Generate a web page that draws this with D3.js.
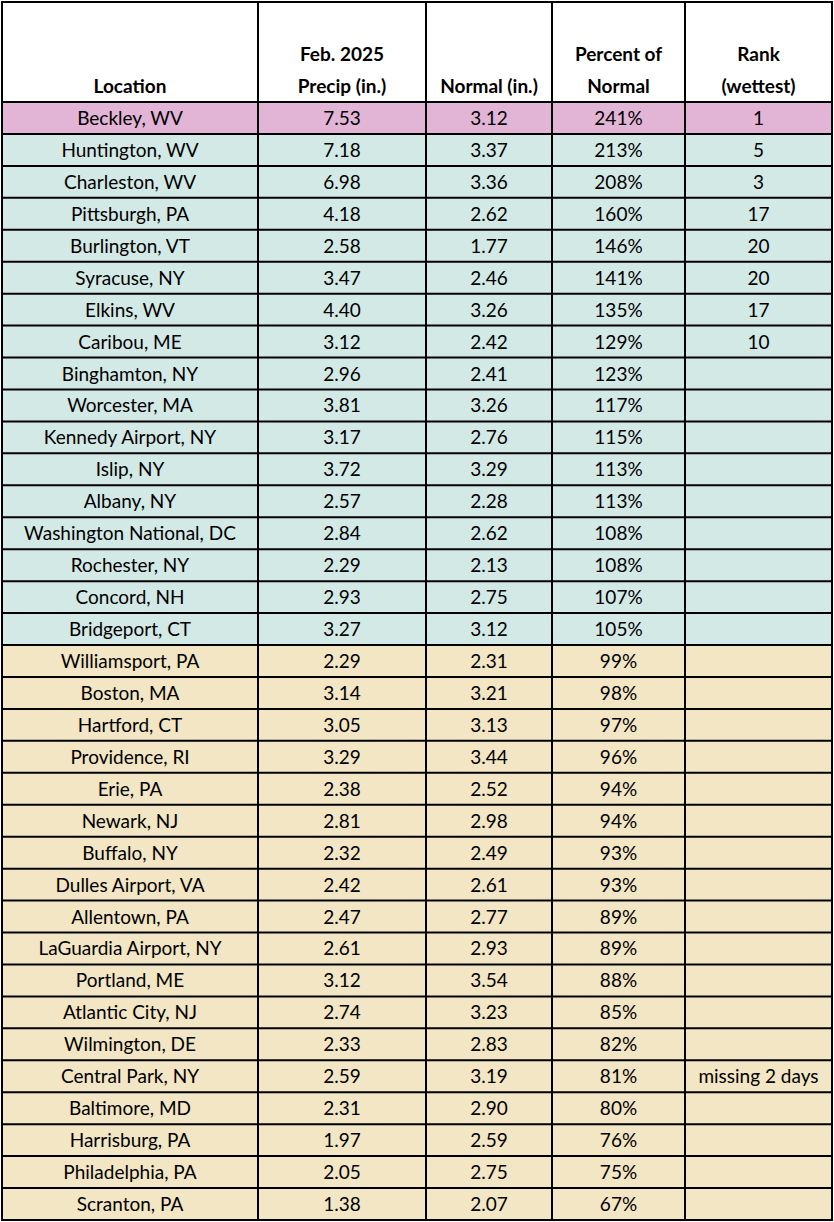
<!DOCTYPE html>
<html><head><meta charset="utf-8">
<script src="https://cdn.jsdelivr.net/npm/d3@7"></script>
<style>body{margin:0;background:#fff}</style>
</head><body><div id="root"></div>
<script>
const locations = ["Beckley, WV","Huntington, WV","Charleston, WV","Pittsburgh, PA","Burlington, VT","Syracuse, NY","Elkins, WV","Caribou, ME","Binghamton, NY","Worcester, MA","Kennedy Airport, NY","Islip, NY","Albany, NY","Washington National, DC","Rochester, NY","Concord, NH","Bridgeport, CT","Williamsport, PA","Boston, MA","Hartford, CT","Providence, RI","Erie, PA","Newark, NJ","Buffalo, NY","Dulles Airport, VA","Allentown, PA","LaGuardia Airport, NY","Portland, ME","Atlantic City, NJ","Wilmington, DE","Central Park, NY","Baltimore, MD","Harrisburg, PA","Philadelphia, PA","Scranton, PA"];
const precip = ["7.53","7.18","6.98","4.18","2.58","3.47","4.40","3.12","2.96","3.81","3.17","3.72","2.57","2.84","2.29","2.93","3.27","2.29","3.14","3.05","3.29","2.38","2.81","2.32","2.42","2.47","2.61","3.12","2.74","2.33","2.59","2.31","1.97","2.05","1.38"];
const normal = ["3.12","3.37","3.36","2.62","1.77","2.46","3.26","2.42","2.41","3.26","2.76","3.29","2.28","2.62","2.13","2.75","3.12","2.31","3.21","3.13","3.44","2.52","2.98","2.49","2.61","2.77","2.93","3.54","3.23","2.83","3.19","2.90","2.59","2.75","2.07"];
const percent = [241,213,208,160,146,141,135,129,123,117,115,113,113,108,108,107,105,99,98,97,96,94,94,93,93,89,89,88,85,82,81,80,76,75,67];
const rank = ["1","5","3","17","20","20","17","10","","","","","","","","","","","","","","","","","","","","","","","missing 2 days","","","",""];
const headers = [["Location"],["Feb. 2025","Precip (in.)"],["Normal (in.)"],["Percent of","Normal"],["Rank","(wettest)"]];

const width = 834, height = 1222;
const colEdges = [2, 258, 426, 552, 685, 832];
const headTop = 2, headBottom = 102, tableBottom = 1220;

const svg = d3.select("#root").append("svg")
  .attr("width", width).attr("height", height)
  .attr("viewBox", [0, 0, width, height])
  .style("font-family", "Lato, 'Open Sans', sans-serif");

const y = d3.scaleBand().domain(d3.range(locations.length)).range([headBottom, tableBottom]);
const fill = i => percent[i] >= 200 && i === 0 ? "#e2b4d6" : percent[i] >= 100 ? "#d3e9e6" : "#f2e6c4";

// row backgrounds
svg.selectAll("rect.row").data(locations).enter().append("rect")
  .attr("x", colEdges[0]).attr("y", (d, i) => y(i))
  .attr("width", colEdges[5] - colEdges[0]).attr("height", y.bandwidth())
  .attr("fill", (d, i) => fill(i));

// cell text
const cols = [locations, precip, normal, percent.map(p => p + "%"), rank];
cols.forEach((col, c) => {
  svg.selectAll("text.c" + c).data(col).enter().append("text")
    .attr("x", (colEdges[c] + colEdges[c + 1]) / 2)
    .attr("y", (d, i) => y(i) + y.bandwidth() / 2 + 7)
    .attr("text-anchor", "middle").attr("font-size", 19).attr("fill", "#000")
    .text(d => d);
});

// headers
headers.forEach((lines, c) => {
  lines.forEach((t, j) => {
    svg.append("text")
      .attr("x", (colEdges[c] + colEdges[c + 1]) / 2)
      .attr("y", 93 - (lines.length - 1 - j) * 32)
      .attr("text-anchor", "middle").attr("font-size", 19).attr("font-weight", "bold")
      .text(t);
  });
});

// grid
const g = svg.append("g").attr("stroke", "#000").attr("stroke-width", 2);
colEdges.forEach(x => g.append("line").attr("x1", x).attr("x2", x).attr("y1", headTop).attr("y2", tableBottom));
[headTop, ...d3.range(locations.length).map(i => y(i)), tableBottom].forEach(v =>
  g.append("line").attr("x1", colEdges[0] - 1).attr("x2", colEdges[5] + 1).attr("y1", v).attr("y2", v));
</script></body></html>
